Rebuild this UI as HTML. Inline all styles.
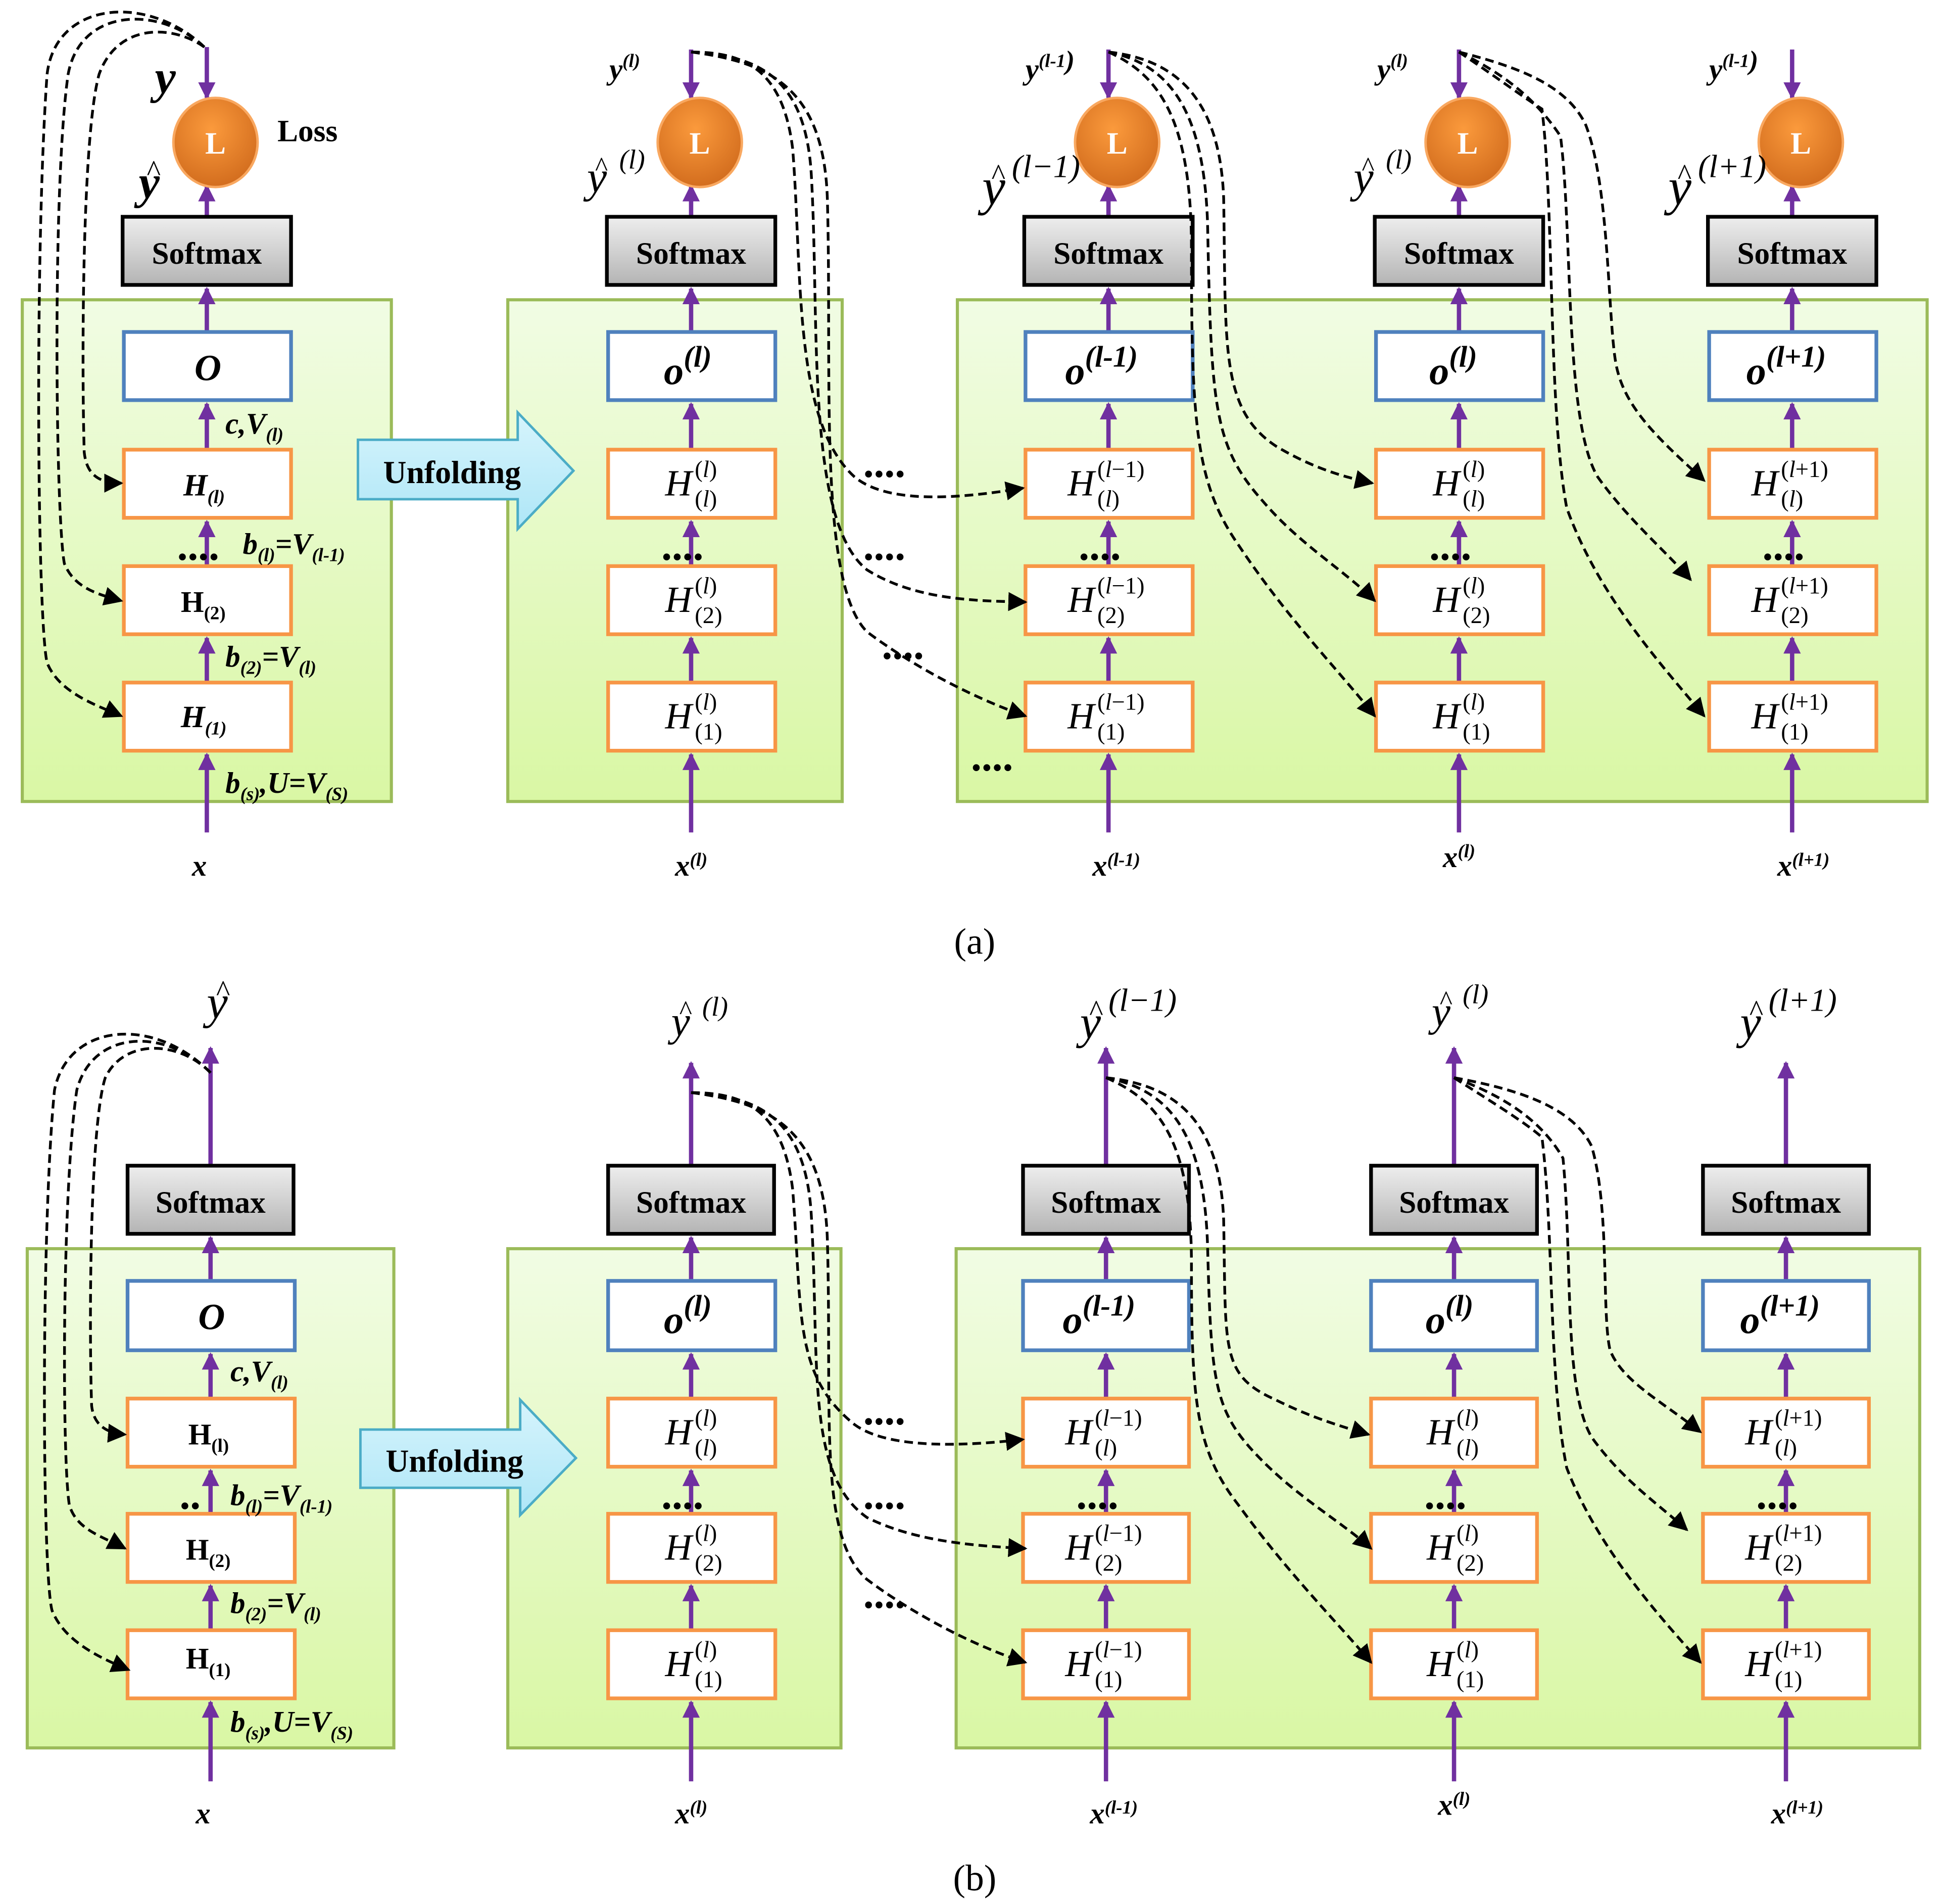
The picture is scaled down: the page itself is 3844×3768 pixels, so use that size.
<!DOCTYPE html>
<html><head><meta charset="utf-8"><style>html,body{margin:0;padding:0;background:#fff}svg{display:block}svg text{font-family:"Liberation Serif",serif}</style></head><body>
<svg width="3844" height="3768" viewBox="0 0 1568 1537" preserveAspectRatio="none" xmlns="http://www.w3.org/2000/svg">
<defs>
<linearGradient id="gp" x1="0" y1="0" x2="0" y2="1"><stop offset="0" stop-color="#f1fce4"/><stop offset="1" stop-color="#d9f7a4"/></linearGradient>
<linearGradient id="gs" x1="0" y1="0" x2="0" y2="1"><stop offset="0" stop-color="#eeeeee"/><stop offset="1" stop-color="#b4b4b4"/></linearGradient>
<radialGradient id="go" cx="0.45" cy="0.35" r="0.7"><stop offset="0" stop-color="#fb9a3c"/><stop offset="1" stop-color="#d06a1c"/></radialGradient>
<linearGradient id="gu" x1="0" y1="0" x2="0" y2="1"><stop offset="0" stop-color="#d6f4fc"/><stop offset="1" stop-color="#aee6f7"/></linearGradient>
<marker id="pa" viewBox="0 0 10 10" refX="9" refY="5" markerWidth="4" markerHeight="4" orient="auto-start-reverse" markerUnits="strokeWidth"><path d="M0,0L10,5L0,10z" fill="#7030a0"/></marker>
<marker id="ba" viewBox="0 0 10 10" refX="9" refY="5" markerWidth="7" markerHeight="7" orient="auto" markerUnits="strokeWidth"><path d="M0,0L10,5L0,10z" fill="#000"/></marker>
</defs>

<!-- ============ PANEL A ============ -->
<g>
<rect x="18" y="242" width="298" height="405" fill="url(#gp)" stroke="#9bbb59" stroke-width="2.5"/>
<rect x="410" y="242" width="270" height="405" fill="url(#gp)" stroke="#9bbb59" stroke-width="2.5"/>
<rect x="773" y="242" width="783" height="405" fill="url(#gp)" stroke="#9bbb59" stroke-width="2.5"/>

<path d="M289,355 L418,355 L418,333 L463,380 L418,427 L418,403 L289,403 Z" fill="url(#gu)" stroke="#4bacc6" stroke-width="2"/>
<text x="365" y="390" font-size="26" font-weight="bold" text-anchor="middle">Unfolding</text>

<g stroke="#7030a0" stroke-width="3.5" fill="none" marker-end="url(#pa)">
<line x1="167" y1="672" x2="167" y2="609"/><line x1="167" y1="551" x2="167" y2="515"/><line x1="167" y1="457" x2="167" y2="421"/><line x1="167" y1="363" x2="167" y2="326"/><line x1="167" y1="268" x2="167" y2="233"/><line x1="167" y1="175" x2="167" y2="150"/><line x1="167" y1="38" x2="167" y2="79"/>
<line x1="558" y1="672" x2="558" y2="609"/><line x1="558" y1="551" x2="558" y2="515"/><line x1="558" y1="457" x2="558" y2="421"/><line x1="558" y1="363" x2="558" y2="326"/><line x1="558" y1="268" x2="558" y2="233"/><line x1="558" y1="175" x2="558" y2="150"/><line x1="558" y1="40" x2="558" y2="79"/>
<line x1="895" y1="672" x2="895" y2="609"/><line x1="895" y1="551" x2="895" y2="515"/><line x1="895" y1="457" x2="895" y2="421"/><line x1="895" y1="363" x2="895" y2="326"/><line x1="895" y1="268" x2="895" y2="233"/><line x1="895" y1="175" x2="895" y2="150"/><line x1="895" y1="40" x2="895" y2="79"/>
<line x1="1178" y1="672" x2="1178" y2="609"/><line x1="1178" y1="551" x2="1178" y2="515"/><line x1="1178" y1="457" x2="1178" y2="421"/><line x1="1178" y1="363" x2="1178" y2="326"/><line x1="1178" y1="268" x2="1178" y2="233"/><line x1="1178" y1="175" x2="1178" y2="150"/><line x1="1178" y1="40" x2="1178" y2="79"/>
<line x1="1447" y1="672" x2="1447" y2="609"/><line x1="1447" y1="551" x2="1447" y2="515"/><line x1="1447" y1="457" x2="1447" y2="421"/><line x1="1447" y1="363" x2="1447" y2="326"/><line x1="1447" y1="268" x2="1447" y2="233"/><line x1="1447" y1="175" x2="1447" y2="150"/><line x1="1447" y1="40" x2="1447" y2="79"/>
</g>

<g stroke-width="3">
<g fill="url(#gs)" stroke="#000">
<rect x="99" y="175" width="136" height="55"/><rect x="490" y="175" width="136" height="55"/><rect x="827" y="175" width="136" height="55"/><rect x="1110" y="175" width="136" height="55"/><rect x="1379" y="175" width="136" height="55"/>
</g>
<g fill="#fff" stroke="#4f81bd">
<rect x="100" y="268" width="135" height="55"/><rect x="491" y="268" width="135" height="55"/><rect x="828" y="268" width="135" height="55"/><rect x="1111" y="268" width="135" height="55"/><rect x="1380" y="268" width="135" height="55"/>
</g>
<g fill="#fff" stroke="#f79646">
<rect x="100" y="363" width="135" height="55"/><rect x="100" y="457" width="135" height="55"/><rect x="100" y="551" width="135" height="55"/>
<rect x="491" y="363" width="135" height="55"/><rect x="491" y="457" width="135" height="55"/><rect x="491" y="551" width="135" height="55"/>
<rect x="828" y="363" width="135" height="55"/><rect x="828" y="457" width="135" height="55"/><rect x="828" y="551" width="135" height="55"/>
<rect x="1111" y="363" width="135" height="55"/><rect x="1111" y="457" width="135" height="55"/><rect x="1111" y="551" width="135" height="55"/>
<rect x="1380" y="363" width="135" height="55"/><rect x="1380" y="457" width="135" height="55"/><rect x="1380" y="551" width="135" height="55"/>
</g>
<g fill="url(#go)" stroke="#f9a860" stroke-width="2">
<ellipse cx="174" cy="115" rx="34" ry="36"/><ellipse cx="565" cy="115" rx="34" ry="36"/><ellipse cx="902" cy="115" rx="34" ry="36"/><ellipse cx="1185" cy="115" rx="34" ry="36"/><ellipse cx="1454" cy="115" rx="34" ry="36"/>
</g>
</g>
<g font-size="25" font-weight="bold" text-anchor="middle">
<text x="167" y="213">Softmax</text><text x="558" y="213">Softmax</text><text x="895" y="213">Softmax</text><text x="1178" y="213">Softmax</text><text x="1447" y="213">Softmax</text>
</g>
<g font-size="25" font-weight="bold" fill="#fff" text-anchor="middle">
<text x="174" y="124">L</text><text x="565" y="124">L</text><text x="902" y="124">L</text><text x="1185" y="124">L</text><text x="1454" y="124">L</text>
</g>
<text x="224" y="114" font-size="25" font-weight="bold">Loss</text>

<g font-style="italic" font-weight="bold">
<text x="125" y="75" font-size="38">y</text>
<text x="112" y="160" font-size="38">y</text><text x="118" y="146" font-size="24" font-weight="normal">^</text>
<text x="157" y="307" font-size="30">O</text>
<text x="148" y="400" font-size="25">H<tspan font-size="15" dy="6">(l)</tspan></text>
<text x="146" y="494" font-size="24" font-style="normal">H<tspan font-size="15" dy="6">(2)</tspan></text>
<text x="146" y="587" font-size="25">H<tspan font-size="15" dy="6">(1)</tspan></text>
<text x="182" y="350" font-size="24">c,V<tspan font-size="15" dy="6">(l)</tspan></text>
<text x="196" y="447" font-size="24">b<tspan font-size="15" dy="6">(l)</tspan><tspan dy="-6">=V</tspan><tspan font-size="15" dy="6">(l-1)</tspan></text>
<text x="182" y="538" font-size="24">b<tspan font-size="15" dy="6">(2)</tspan><tspan dy="-6">=V</tspan><tspan font-size="15" dy="6">(l)</tspan></text>
<text x="182" y="640" font-size="24">b<tspan font-size="15" dy="6">(s)</tspan><tspan dy="-6">,U=V</tspan><tspan font-size="15" dy="6">(S)</tspan></text>
<text x="155" y="707" font-size="24">x</text>
<text x="545" y="707" font-size="24">x<tspan font-size="15" dy="-8">(l)</tspan></text>
<text x="882" y="707" font-size="24">x<tspan font-size="15" dy="-8">(l-1)</tspan></text>
<text x="1165" y="700" font-size="24">x<tspan font-size="15" dy="-8">(l)</tspan></text>
<text x="1435" y="707" font-size="24">x<tspan font-size="15" dy="-8">(l+1)</tspan></text>
<text x="492" y="64" font-size="24">y<tspan font-size="15" dy="-10">(l)</tspan></text>
<text x="828" y="64" font-size="24">y<tspan font-size="15" dy="-10">(l-1</tspan><tspan font-size="22" dy="2">)</tspan></text>
<text x="1112" y="64" font-size="24">y<tspan font-size="15" dy="-10">(l)</tspan></text>
<text x="1380" y="64" font-size="24">y<tspan font-size="15" dy="-10">(l-1</tspan><tspan font-size="22" dy="2">)</tspan></text>
<text x="536" y="310" font-size="32">o<tspan font-size="24" dy="-14">(l)</tspan></text>
<text x="860" y="310" font-size="32">o<tspan font-size="24" dy="-14">(l-1)</tspan></text>
<text x="1154" y="310" font-size="32">o<tspan font-size="24" dy="-14">(l)</tspan></text>
<text x="1410" y="310" font-size="32">o<tspan font-size="24" dy="-14">(l+1)</tspan></text>
</g>
<g font-style="italic">
<text x="474" y="155" font-size="36">y</text><text x="480" y="142" font-size="22">^</text><text x="500" y="136" font-size="22">(l)</text>
<text x="793" y="165" font-size="42">y</text><text x="800" y="149" font-size="24">^</text><text x="817" y="143" font-size="26">(l−1)</text>
<text x="1093" y="155" font-size="36">y</text><text x="1099" y="142" font-size="22">^</text><text x="1119" y="136" font-size="22">(l)</text>
<text x="1347" y="165" font-size="42">y</text><text x="1354" y="149" font-size="24">^</text><text x="1371" y="143" font-size="26">(l+1)</text>
</g>
<g font-size="30" font-style="italic">
<text x="537" y="400">H</text><text x="537" y="494">H</text><text x="537" y="588">H</text>
<text x="862" y="400">H</text><text x="862" y="494">H</text><text x="862" y="588">H</text>
<text x="1157" y="400">H</text><text x="1157" y="494">H</text><text x="1157" y="588">H</text>
<text x="1414" y="400">H</text><text x="1414" y="494">H</text><text x="1414" y="588">H</text>
</g>
<g font-size="19">
<text x="561" y="385">(<tspan font-style="italic">l</tspan>)</text><text x="561" y="409">(<tspan font-style="italic">l</tspan>)</text>
<text x="561" y="479">(<tspan font-style="italic">l</tspan>)</text><text x="561" y="503">(2)</text>
<text x="561" y="573">(<tspan font-style="italic">l</tspan>)</text><text x="561" y="597">(1)</text>
<text x="886" y="385">(<tspan font-style="italic">l</tspan>−1)</text><text x="886" y="409">(<tspan font-style="italic">l</tspan>)</text>
<text x="886" y="479">(<tspan font-style="italic">l</tspan>−1)</text><text x="886" y="503">(2)</text>
<text x="886" y="573">(<tspan font-style="italic">l</tspan>−1)</text><text x="886" y="597">(1)</text>
<text x="1181" y="385">(<tspan font-style="italic">l</tspan>)</text><text x="1181" y="409">(<tspan font-style="italic">l</tspan>)</text>
<text x="1181" y="479">(<tspan font-style="italic">l</tspan>)</text><text x="1181" y="503">(2)</text>
<text x="1181" y="573">(<tspan font-style="italic">l</tspan>)</text><text x="1181" y="597">(1)</text>
<text x="1438" y="385">(<tspan font-style="italic">l</tspan>+1)</text><text x="1438" y="409">(<tspan font-style="italic">l</tspan>)</text>
<text x="1438" y="479">(<tspan font-style="italic">l</tspan>+1)</text><text x="1438" y="503">(2)</text>
<text x="1438" y="573">(<tspan font-style="italic">l</tspan>+1)</text><text x="1438" y="597">(1)</text>
</g>
<g font-size="34" font-weight="bold">
<text x="143" y="452">....</text><text x="534" y="452">....</text><text x="871" y="452">....</text><text x="1154" y="452">....</text><text x="1423" y="452">....</text>
<text x="697" y="385">....</text><text x="697" y="452">....</text><text x="712" y="532">....</text><text x="784" y="622">....</text>
</g>
<g fill="none" stroke="#000" stroke-width="2.2" stroke-dasharray="7,4" marker-end="url(#ba)">
<path d="M165,38 C140,20 95,18 80,60 C66,110 66,300 68,365 C70,385 82,390 98,390"/>
<path d="M165,38 C130,5 65,5 55,60 C42,150 45,420 52,455 C60,475 80,480 98,485"/>
<path d="M165,38 C120,-5 45,0 38,60 C28,200 30,500 38,535 C48,560 80,570 98,578"/>
<path d="M558,42 C600,42 632,55 640,120 C648,220 640,340 690,385 C720,410 790,400 826,394"/>
<path d="M558,42 C610,45 650,60 655,140 C662,260 650,420 700,460 C740,485 790,485 828,486"/>
<path d="M558,42 C620,50 665,70 668,160 C672,300 660,470 700,510 C740,540 790,565 828,578"/>
<path d="M895,42 C950,48 985,80 988,160 C990,280 985,330 1030,360 C1060,378 1085,385 1108,390"/>
<path d="M895,42 C945,52 972,90 975,180 C978,330 980,360 1020,405 C1050,440 1085,460 1110,485"/>
<path d="M895,42 C935,60 962,95 962,200 C962,340 965,390 1000,440 C1040,500 1080,540 1110,578"/>
<path d="M1178,42 C1230,55 1265,70 1280,100 C1300,150 1298,260 1305,295 C1312,330 1340,355 1376,388"/>
<path d="M1178,42 C1215,60 1240,80 1260,110 C1270,190 1263,340 1290,385 C1315,420 1345,445 1365,468"/>
<path d="M1178,42 C1205,60 1225,75 1245,88 C1255,170 1250,330 1265,410 C1290,480 1340,535 1376,578"/>
</g>
<text x="787" y="770" font-size="30" text-anchor="middle">(a)</text>
</g>

<!-- ============ PANEL B ============ -->
<g>
<rect x="22" y="1008" width="296" height="403" fill="url(#gp)" stroke="#9bbb59" stroke-width="2.5"/>
<rect x="410" y="1008" width="269" height="403" fill="url(#gp)" stroke="#9bbb59" stroke-width="2.5"/>
<rect x="772" y="1008" width="778" height="403" fill="url(#gp)" stroke="#9bbb59" stroke-width="2.5"/>
<path d="M291,1154 L420,1154 L420,1130 L465,1177 L420,1223 L420,1201 L291,1201 Z" fill="url(#gu)" stroke="#4bacc6" stroke-width="2"/>
<text x="367" y="1188" font-size="26" font-weight="bold" text-anchor="middle">Unfolding</text>

<g stroke="#7030a0" stroke-width="3.5" fill="none" marker-end="url(#pa)">
<line x1="170" y1="1438" x2="170" y2="1374"/><line x1="170" y1="1316" x2="170" y2="1280"/><line x1="170" y1="1222" x2="170" y2="1187"/><line x1="170" y1="1129" x2="170" y2="1093"/><line x1="170" y1="1034" x2="170" y2="999"/><line x1="170" y1="941" x2="170" y2="846"/>
<line x1="558" y1="1438" x2="558" y2="1374"/><line x1="558" y1="1316" x2="558" y2="1280"/><line x1="558" y1="1222" x2="558" y2="1187"/><line x1="558" y1="1129" x2="558" y2="1093"/><line x1="558" y1="1034" x2="558" y2="999"/><line x1="558" y1="941" x2="558" y2="858"/>
<line x1="893" y1="1438" x2="893" y2="1374"/><line x1="893" y1="1316" x2="893" y2="1280"/><line x1="893" y1="1222" x2="893" y2="1187"/><line x1="893" y1="1129" x2="893" y2="1093"/><line x1="893" y1="1034" x2="893" y2="999"/><line x1="893" y1="941" x2="893" y2="846"/>
<line x1="1174" y1="1438" x2="1174" y2="1374"/><line x1="1174" y1="1316" x2="1174" y2="1280"/><line x1="1174" y1="1222" x2="1174" y2="1187"/><line x1="1174" y1="1129" x2="1174" y2="1093"/><line x1="1174" y1="1034" x2="1174" y2="999"/><line x1="1174" y1="941" x2="1174" y2="846"/>
<line x1="1442" y1="1438" x2="1442" y2="1374"/><line x1="1442" y1="1316" x2="1442" y2="1280"/><line x1="1442" y1="1222" x2="1442" y2="1187"/><line x1="1442" y1="1129" x2="1442" y2="1093"/><line x1="1442" y1="1034" x2="1442" y2="999"/><line x1="1442" y1="941" x2="1442" y2="858"/>
</g>
<g stroke-width="3">
<g fill="url(#gs)" stroke="#000">
<rect x="103" y="941" width="134" height="55"/><rect x="491" y="941" width="134" height="55"/><rect x="826" y="941" width="134" height="55"/><rect x="1107" y="941" width="134" height="55"/><rect x="1375" y="941" width="134" height="55"/>
</g>
<g fill="#fff" stroke="#4f81bd">
<rect x="103" y="1034" width="135" height="56"/><rect x="491" y="1034" width="135" height="56"/><rect x="826" y="1034" width="134" height="56"/><rect x="1107" y="1034" width="134" height="56"/><rect x="1375" y="1034" width="134" height="56"/>
</g>
<g fill="#fff" stroke="#f79646">
<rect x="103" y="1129" width="135" height="55"/><rect x="103" y="1222" width="135" height="55"/><rect x="103" y="1316" width="135" height="55"/>
<rect x="491" y="1129" width="135" height="55"/><rect x="491" y="1222" width="135" height="55"/><rect x="491" y="1316" width="135" height="55"/>
<rect x="826" y="1129" width="134" height="55"/><rect x="826" y="1222" width="134" height="55"/><rect x="826" y="1316" width="134" height="55"/>
<rect x="1107" y="1129" width="134" height="55"/><rect x="1107" y="1222" width="134" height="55"/><rect x="1107" y="1316" width="134" height="55"/>
<rect x="1375" y="1129" width="134" height="55"/><rect x="1375" y="1222" width="134" height="55"/><rect x="1375" y="1316" width="134" height="55"/>
</g>
</g>
<g font-size="25" font-weight="bold" text-anchor="middle">
<text x="170" y="979">Softmax</text><text x="558" y="979">Softmax</text><text x="893" y="979">Softmax</text><text x="1174" y="979">Softmax</text><text x="1442" y="979">Softmax</text>
</g>
<g font-style="italic" font-weight="bold">
<text x="160" y="1073" font-size="30">O</text>
<text x="152" y="1166" font-size="24" font-style="normal">H<tspan font-size="15" dy="6">(l)</tspan></text>
<text x="150" y="1259" font-size="24" font-style="normal">H<tspan font-size="15" dy="6">(2)</tspan></text>
<text x="150" y="1347" font-size="24" font-style="normal">H<tspan font-size="15" dy="6">(1)</tspan></text>
<text x="186" y="1115" font-size="24">c,V<tspan font-size="15" dy="6">(l)</tspan></text>
<text x="186" y="1215" font-size="24">b<tspan font-size="15" dy="6">(l)</tspan><tspan dy="-6">=V</tspan><tspan font-size="15" dy="6">(l-1)</tspan></text>
<text x="186" y="1302" font-size="24">b<tspan font-size="15" dy="6">(2)</tspan><tspan dy="-6">=V</tspan><tspan font-size="15" dy="6">(l)</tspan></text>
<text x="186" y="1398" font-size="24">b<tspan font-size="15" dy="6">(s)</tspan><tspan dy="-6">,U=V</tspan><tspan font-size="15" dy="6">(S)</tspan></text>
<text x="158" y="1472" font-size="24">x</text>
<text x="545" y="1472" font-size="24">x<tspan font-size="15" dy="-8">(l)</tspan></text>
<text x="880" y="1472" font-size="24">x<tspan font-size="15" dy="-8">(l-1)</tspan></text>
<text x="1161" y="1465" font-size="24">x<tspan font-size="15" dy="-8">(l)</tspan></text>
<text x="1430" y="1472" font-size="24">x<tspan font-size="15" dy="-8">(l+1)</tspan></text>
<text x="536" y="1076" font-size="32">o<tspan font-size="24" dy="-14">(l)</tspan></text>
<text x="858" y="1076" font-size="32">o<tspan font-size="24" dy="-14">(l-1)</tspan></text>
<text x="1151" y="1076" font-size="32">o<tspan font-size="24" dy="-14">(l)</tspan></text>
<text x="1405" y="1076" font-size="32">o<tspan font-size="24" dy="-14">(l+1)</tspan></text>
</g>
<g font-style="italic">
<text x="167" y="822" font-size="38">y</text><text x="174" y="808" font-size="24">^</text>
<text x="542" y="836" font-size="34">y</text><text x="548" y="823" font-size="22">^</text><text x="567" y="820" font-size="22">(l)</text>
<text x="872" y="838" font-size="38">y</text><text x="879" y="824" font-size="24">^</text><text x="895" y="816" font-size="26">(l−1)</text>
<text x="1156" y="828" font-size="34">y</text><text x="1162" y="815" font-size="22">^</text><text x="1181" y="810" font-size="22">(l)</text>
<text x="1405" y="838" font-size="38">y</text><text x="1412" y="824" font-size="24">^</text><text x="1428" y="816" font-size="26">(l+1)</text>
</g>
<g font-size="30" font-style="italic">
<text x="537" y="1166">H</text><text x="537" y="1259">H</text><text x="537" y="1353">H</text>
<text x="860" y="1166">H</text><text x="860" y="1259">H</text><text x="860" y="1353">H</text>
<text x="1152" y="1166">H</text><text x="1152" y="1259">H</text><text x="1152" y="1353">H</text>
<text x="1409" y="1166">H</text><text x="1409" y="1259">H</text><text x="1409" y="1353">H</text>
</g>
<g font-size="19">
<text x="561" y="1151">(<tspan font-style="italic">l</tspan>)</text><text x="561" y="1175">(<tspan font-style="italic">l</tspan>)</text>
<text x="561" y="1244">(<tspan font-style="italic">l</tspan>)</text><text x="561" y="1268">(2)</text>
<text x="561" y="1338">(<tspan font-style="italic">l</tspan>)</text><text x="561" y="1362">(1)</text>
<text x="884" y="1151">(<tspan font-style="italic">l</tspan>−1)</text><text x="884" y="1175">(<tspan font-style="italic">l</tspan>)</text>
<text x="884" y="1244">(<tspan font-style="italic">l</tspan>−1)</text><text x="884" y="1268">(2)</text>
<text x="884" y="1338">(<tspan font-style="italic">l</tspan>−1)</text><text x="884" y="1362">(1)</text>
<text x="1176" y="1151">(<tspan font-style="italic">l</tspan>)</text><text x="1176" y="1175">(<tspan font-style="italic">l</tspan>)</text>
<text x="1176" y="1244">(<tspan font-style="italic">l</tspan>)</text><text x="1176" y="1268">(2)</text>
<text x="1176" y="1338">(<tspan font-style="italic">l</tspan>)</text><text x="1176" y="1362">(1)</text>
<text x="1433" y="1151">(<tspan font-style="italic">l</tspan>+1)</text><text x="1433" y="1175">(<tspan font-style="italic">l</tspan>)</text>
<text x="1433" y="1244">(<tspan font-style="italic">l</tspan>+1)</text><text x="1433" y="1268">(2)</text>
<text x="1433" y="1338">(<tspan font-style="italic">l</tspan>+1)</text><text x="1433" y="1362">(1)</text>
</g>
<g font-size="34" font-weight="bold">
<text x="145" y="1218">..</text><text x="534" y="1218">....</text><text x="869" y="1218">....</text><text x="1150" y="1218">....</text><text x="1418" y="1218">....</text>
<text x="697" y="1150">....</text><text x="697" y="1218">....</text><text x="697" y="1298">....</text>
</g>
<g fill="none" stroke="#000" stroke-width="2.2" stroke-dasharray="7,4" marker-end="url(#ba)">
<path d="M170,866 C145,840 100,838 85,870 C72,910 72,1080 74,1135 C76,1152 88,1157 101,1158"/>
<path d="M170,866 C135,830 75,830 62,880 C50,960 50,1180 56,1215 C62,1235 82,1240 101,1250"/>
<path d="M170,866 C125,820 55,825 44,880 C33,990 34,1270 42,1300 C52,1325 80,1338 104,1348"/>
<path d="M558,882 C600,882 632,895 640,960 C648,1060 640,1110 690,1150 C720,1172 790,1166 826,1162"/>
<path d="M558,882 C610,885 650,900 655,980 C662,1100 650,1190 700,1225 C740,1245 790,1248 828,1250"/>
<path d="M558,882 C620,890 665,910 668,1000 C672,1140 660,1240 700,1275 C740,1305 790,1330 828,1342"/>
<path d="M893,870 C950,876 985,905 988,985 C990,1090 985,1110 1030,1130 C1060,1145 1085,1152 1105,1158"/>
<path d="M893,870 C945,880 972,915 975,1005 C978,1120 980,1140 1020,1180 C1050,1210 1085,1230 1107,1250"/>
<path d="M893,870 C935,888 962,920 962,1020 C962,1130 965,1170 1000,1215 C1040,1270 1080,1310 1107,1342"/>
<path d="M1174,870 C1230,880 1270,895 1285,925 C1300,975 1293,1060 1300,1090 C1310,1115 1340,1130 1373,1156"/>
<path d="M1174,870 C1215,885 1245,905 1262,935 C1270,1020 1262,1120 1285,1160 C1310,1195 1340,1215 1362,1235"/>
<path d="M1174,870 C1205,890 1230,905 1245,918 C1255,1000 1250,1110 1265,1185 C1290,1250 1340,1305 1373,1342"/>
</g>
<text x="787" y="1526" font-size="30" text-anchor="middle">(b)</text>
</g>
</svg>
</body></html>
